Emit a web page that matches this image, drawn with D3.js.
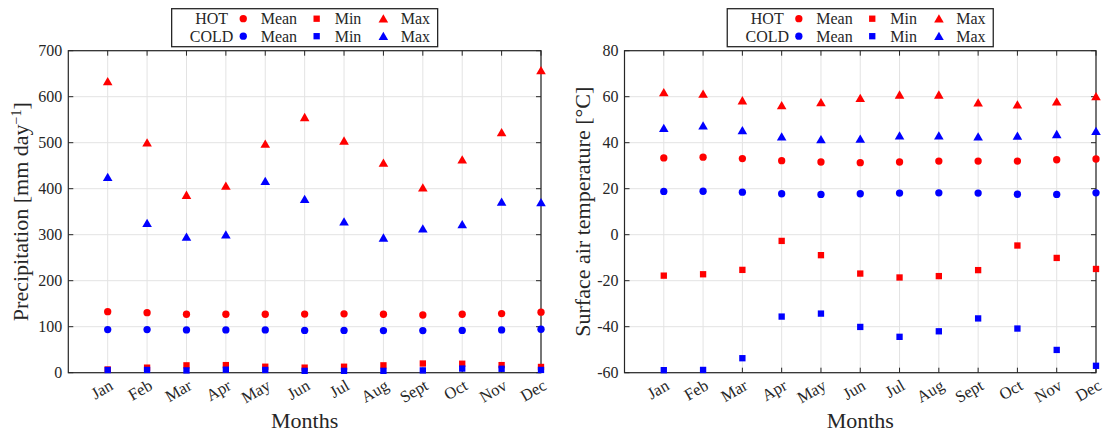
<!DOCTYPE html>
<html>
<head>
<meta charset="utf-8">
<script src="https://cdn.jsdelivr.net/npm/d3@7"></script>
<style>
  body { margin: 0; background: #fff; }
</style>
</head>
<body>
<svg id="viz" width="1103" height="434"></svg>
<script>
const months = ["Jan", "Feb", "Mar", "Apr", "May", "Jun", "Jul", "Aug", "Sept", "Oct", "Nov", "Dec"];

// precipitation [mm day-1]
const precipHotMean = [132.7, 130.5, 127, 127, 127, 127.5, 128, 127, 125.5, 127, 128.5, 131.5];
const precipHotMin = [7, 11, 16, 16.5, 13, 11, 13, 16, 20, 19.5, 16.5, 12.5];
const precipHotMax = [633, 500, 386, 406, 497, 555, 504, 456, 402, 463, 522, 657];
const precipColdMean = [93.7, 93.7, 93, 93, 93, 92, 92, 91.5, 91.5, 92, 93, 94.5];
const precipColdMin = [5.8, 6, 5, 6.5, 6, 4, 4, 4, 5, 9, 8.5, 6];
const precipColdMax = [425, 325, 295, 300, 416, 377, 328, 293, 313, 322, 371, 370];
const precipTicks = [0, 100, 200, 300, 400, 500, 600, 700];

// surface air temperature [°C]
const tempHotMean = [33.4, 33.7, 33.1, 32.2, 31.6, 31.3, 31.6, 32, 32, 32, 32.6, 32.9];
const tempHotMin = [-17.8, -17.2, -15.3, -2.7, -8.9, -16.9, -18.6, -18, -15.4, -4.7, -10.1, -14.9];
const tempHotMax = [61.8, 61.2, 58.3, 56.2, 57.5, 59.3, 60.8, 60.8, 57.4, 56.5, 57.8, 60.1];
const tempColdMean = [18.8, 18.9, 18.5, 17.8, 17.5, 17.8, 18.1, 18.2, 18.1, 17.6, 17.5, 18.2];
const tempColdMin = [-58.9, -58.8, -53.7, -35.6, -34.3, -40.1, -44.4, -42, -36.4, -40.8, -50.1, -57];
const tempColdMax = [46.3, 47.4, 45.3, 42.6, 41.4, 41.6, 43, 43, 42.6, 42.9, 43.6, 45];
const tempTicks = [-60, -40, -20, 0, 20, 40, 60, 80];

const svg = d3.select("#viz")
    .attr("font-family", "'Liberation Serif', 'DejaVu Serif', serif");
const plotTop = 50.7, plotBottom = 372.7;
const axisColor = "#262626";

const symbolPath = {
    mean: d3.symbol().type(d3.symbolCircle).size(42)(),
    min: d3.symbol().type(d3.symbolSquare).size(40)(),
    max: d3.symbol().type(d3.symbolTriangle).size(40)()
};

const drawPanel = (opts) => {
    const g = svg.append("g").attr("fill", axisColor);
    const x = d3.scaleLinear().domain([0, 12]).range([opts.left, opts.right]);
    const y = d3.scaleLinear().domain(opts.domain).range([plotBottom, plotTop]);

    // grid
    g.append("g").selectAll("line").data(months).join("line")
        .attr("x1", (d, i) => x(i + 1)).attr("x2", (d, i) => x(i + 1))
        .attr("y1", plotTop).attr("y2", plotBottom)
        .attr("stroke", "#e3e3e3").attr("stroke-width", 1);
    g.append("g").selectAll("line").data(opts.ticks).join("line")
        .attr("x1", opts.left).attr("x2", opts.right)
        .attr("y1", d => y(d)).attr("y2", d => y(d))
        .attr("stroke", "#e3e3e3").attr("stroke-width", 1);

    // ticks inside, on all four sides
    const tl = 5;
    const ticks = g.append("g").attr("stroke", axisColor).attr("stroke-width", 1);
    opts.ticks.forEach(t => {
        ticks.append("line").attr("x1", opts.left).attr("x2", opts.left + tl).attr("y1", y(t)).attr("y2", y(t));
        ticks.append("line").attr("x1", opts.right).attr("x2", opts.right - tl).attr("y1", y(t)).attr("y2", y(t));
    });
    months.forEach((m, i) => {
        ticks.append("line").attr("x1", x(i + 1)).attr("x2", x(i + 1)).attr("y1", plotBottom).attr("y2", plotBottom - tl);
        ticks.append("line").attr("x1", x(i + 1)).attr("x2", x(i + 1)).attr("y1", plotTop).attr("y2", plotTop + tl);
    });

    g.append("rect")
        .attr("x", opts.left).attr("y", plotTop)
        .attr("width", opts.right - opts.left).attr("height", plotBottom - plotTop)
        .attr("fill", "none").attr("stroke", axisColor).attr("stroke-width", 1.2);

    // y tick labels
    g.append("g").selectAll("text").data(opts.ticks).join("text")
        .attr("x", opts.left - 6).attr("y", d => y(d))
        .attr("dy", "0.35em").attr("text-anchor", "end")
        .attr("font-size", 16)
        .text(d => d);

    // x tick labels, rotated
    g.append("g").selectAll("text").data(months).join("text")
        .attr("transform", (d, i) => `translate(${x(i + 1) + 6.5},${plotBottom + 16}) rotate(-30)`)
        .attr("text-anchor", "end")
        .attr("font-size", 16.5)
        .text(d => d);

    g.append("text")
        .attr("x", (opts.left + opts.right) / 2).attr("y", 428)
        .attr("text-anchor", "middle").attr("font-size", 22)
        .text("Months");

    const yl = g.append("text")
        .attr("transform", `translate(${opts.labelX},${(plotTop + plotBottom) / 2}) rotate(-90)`)
        .attr("text-anchor", "middle").attr("font-size", 22);
    opts.label(yl);

    // markers: HOT first, COLD on top
    const series = [
        {vals: opts.hot.mean, kind: "mean", color: "#ff0000"},
        {vals: opts.hot.min, kind: "min", color: "#ff0000"},
        {vals: opts.hot.max, kind: "max", color: "#ff0000"},
        {vals: opts.cold.mean, kind: "mean", color: "#0000ff"},
        {vals: opts.cold.min, kind: "min", color: "#0000ff"},
        {vals: opts.cold.max, kind: "max", color: "#0000ff"}
    ];
    series.forEach(s => {
        g.append("g").selectAll("path").data(s.vals).join("path")
            .attr("d", symbolPath[s.kind])
            .attr("transform", (d, i) => `translate(${x(i + 1)},${y(d) + (s.kind === "max" ? 1 : 0)})`)
            .attr("fill", s.color);
    });

    // legend
    const lw = 266, lh = 38;
    const lx = (opts.left + opts.right) / 2 - lw / 2, ly = 8.7;
    const lg = svg.append("g").attr("fill", axisColor).attr("transform", `translate(${lx},${ly})`);
    lg.append("rect").attr("width", lw).attr("height", lh)
        .attr("fill", "#fff").attr("stroke", axisColor).attr("stroke-width", 1.3);
    const rows = [{name: "HOT", color: "#ff0000", cy: 10}, {name: "COLD", color: "#0000ff", cy: 27.5}];
    const items = [{kind: "mean", label: "Mean", mx: 71.6, tx: 89}, {kind: "min", label: "Min", mx: 145, tx: 163}, {kind: "max", label: "Max", mx: 211.7, tx: 229}];
    rows.forEach(r => {
        lg.append("text").attr("x", 40).attr("y", r.cy).attr("dy", "0.35em")
            .attr("text-anchor", "middle").attr("font-size", 16).text(r.name);
        items.forEach(it => {
            lg.append("path").attr("d", symbolPath[it.kind])
                .attr("transform", `translate(${it.mx},${r.cy + (it.kind === "max" ? 1 : 0)})`)
                .attr("fill", r.color);
            lg.append("text").attr("x", it.tx).attr("y", r.cy).attr("dy", "0.35em")
                .attr("font-size", 16).text(it.label);
        });
    });
};

drawPanel({
    left: 68.3, right: 541, domain: [0, 700], ticks: precipTicks, labelX: 28,
    label: t => {
        t.append("tspan").text("Precipitation [mm day");
        t.append("tspan").attr("baseline-shift", "super").attr("font-size", 14).text("\u22121");
        t.append("tspan").text("]");
    },
    hot: {mean: precipHotMean, min: precipHotMin, max: precipHotMax},
    cold: {mean: precipColdMean, min: precipColdMin, max: precipColdMax}
});

drawPanel({
    left: 624.5, right: 1096, domain: [-60, 80], ticks: tempTicks, labelX: 590,
    label: t => t.text("Surface air temperature [\u00b0C]"),
    hot: {mean: tempHotMean, min: tempHotMin, max: tempHotMax},
    cold: {mean: tempColdMean, min: tempColdMin, max: tempColdMax}
});
</script>
</body>
</html>
